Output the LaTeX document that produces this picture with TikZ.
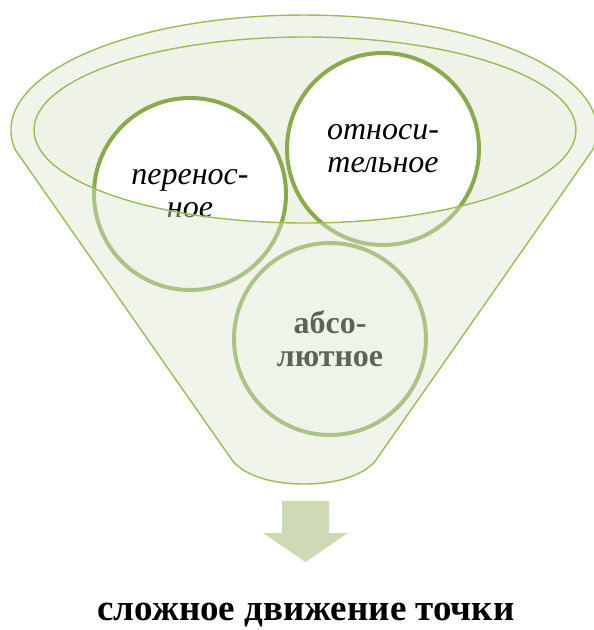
\documentclass[tikz,border=0pt]{standalone}
\usepackage{fontspec}
\setmainfont{Liberation Serif}
\usepackage{xcolor}
\usetikzlibrary{arrows.meta,calc,positioning}

\definecolor{olive}{RGB}{155,187,89}
\definecolor{olivedark}{RGB}{139,170,80}
\definecolor{olivepale}{RGB}{238,242,231}
\definecolor{oliveveil}{RGB}{220,230,207}
\definecolor{olivearrow}{RGB}{205,218,181}

\begin{document}
\begin{tikzpicture}[x=1pt,y=-1pt,
    ring/.style={circle,draw=olivedark,line width=4pt,fill=white,
      minimum size=192pt,inner sep=0pt,align=center},
    ringtext/.style={font=\fontsize{32}{33}\selectfont\itshape},
    rim/.style={draw=olive,line width=1.4pt}]
  \clip (0,0) rectangle (594,630);
  % opening of the funnel
  \fill[olivepale] (305,130) ellipse [x radius=271, y radius=93];
  % the three motions
  \node[ring,ringtext] (perenos) at (190,194) {перенос-\\ное};
  \node[ring,ringtext] (otnos) at (383,149) {относи-\\тельное};
  \node[ring,ringtext,font=\fontsize{32}{33}\selectfont\bfseries] (absol) at (330,339) {абсо-\\лютное};
  % funnel body, laid over the circles
  \path[fill=oliveveil,fill opacity=0.43,even odd rule]
    (15.4,150) arc [start angle=170, end angle=370, x radius=293, y radius=115]
    -- (376,460) .. controls (368,471) and (345,484) .. (304,484)
    .. controls (263,484) and (240,471) .. (232,460) -- cycle
    (305,130) ellipse [x radius=271, y radius=93];
  \draw[rim] (15.4,150) arc [start angle=170, end angle=370, x radius=293, y radius=115]
    -- (376,460) .. controls (368,471) and (345,484) .. (304,484)
    .. controls (263,484) and (240,471) .. (232,460) -- cycle;
  \draw[rim] (305,130) ellipse [x radius=271, y radius=93];
  % arrow and result
  \fill[olivearrow] (282,501) -- (329,501) -- (329,533) -- (348,533)
    -- (305.5,562) -- (263,533) -- (282,533) -- cycle;
  \node[font=\fontsize{37}{40}\selectfont\bfseries,anchor=base] (result) at (306,620)
    {сложное движение точки};
\end{tikzpicture}
\end{document}
